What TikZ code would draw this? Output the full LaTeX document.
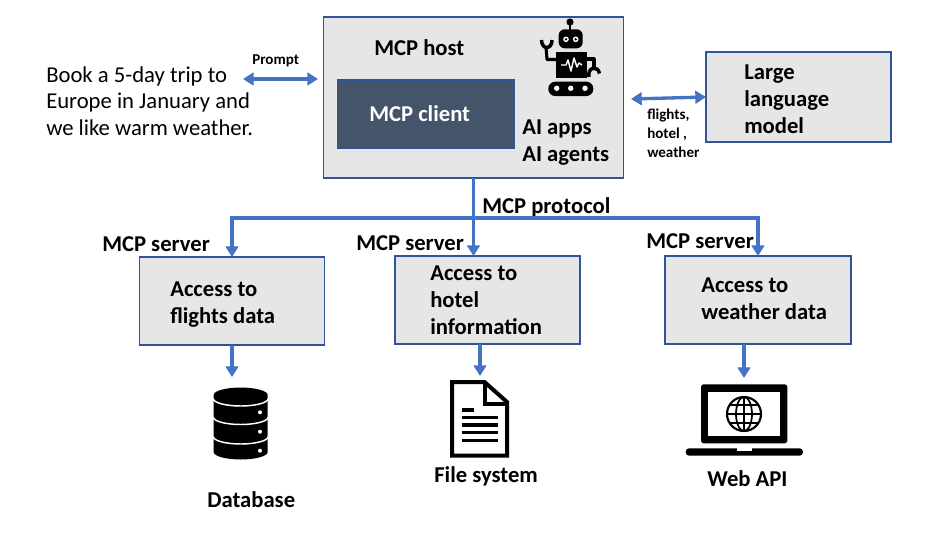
\documentclass[tikz,border=0pt]{standalone}
\usepackage{fontspec}
\setmainfont{Carlito}
\usetikzlibrary{arrows.meta}
\definecolor{boxline}{HTML}{2F5597}
\definecolor{boxfill}{HTML}{E7E6E6}
\definecolor{clientfill}{HTML}{44546A}
\definecolor{arrowblue}{HTML}{4472C4}
\tikzset{
  box/.style={draw=boxline,fill=boxfill,line width=1.1pt,outer sep=0pt,inner sep=0pt},
  clientbox/.style={draw=boxline,fill=clientfill,line width=1pt,outer sep=0pt,inner sep=0pt},
  flow/.style={draw=arrowblue,line width=2.5pt},
  arrowed/.style={flow,-{Triangle[length=8pt,width=9.5pt]}},
  twoway/.style={flow,{Triangle[length=8pt,width=9.5pt]}-{Triangle[length=8pt,width=9.5pt]}},
  big/.style={font=\fontsize{17}{20.1}\selectfont,anchor=north west,align=left,inner sep=0pt},
  lab/.style={font=\fontsize{17}{20.2}\selectfont\bfseries,anchor=north west,align=left,inner sep=0pt},
  small/.style={font=\fontsize{11.3}{14.2}\selectfont\bfseries,anchor=north west,align=left,inner sep=0pt},
}
\begin{document}
\begin{tikzpicture}[x=0.75pt,y=-0.75pt]
\useasboundingbox (0,0) rectangle (936,540);
\fill[white] (0,0) rectangle (936,540);
% boxes
\node[box,minimum width=225pt,minimum height=120.75pt] (host) at (473.5,97.5) {};
\node[clientbox,minimum width=132.75pt,minimum height=51pt] (client) at (426,114) {};
\node[box,minimum width=138.75pt,minimum height=67.5pt] (llm) at (798.5,97) {};
\node[box,minimum width=138.75pt,minimum height=66pt] (srv1) at (232,301) {};
\node[box,minimum width=138.75pt,minimum height=66pt] (srv2) at (487.5,300) {};
\node[box,minimum width=139.5pt,minimum height=66pt] (srv3) at (758,300) {};
% texts
\node[big] (ask) at (46,66) {Book a 5-day trip to\\Europe in January and\\we like warm weather.};
\node[small] (prompt) at (252,54) {Prompt};
\node[lab] (hostlab) at (374,39) {MCP host};
\node[lab,text=white] (clientlab) at (369,105) {MCP client};
\node[lab] (apps) at (522,119.5) {AI apps\\AI agents};
\node[lab] (llmlab) at (744,65) {Large\\language\\model};
\node[small] (data) at (647,109) {flights,\\hotel ,\\weather};
\node[lab] (protolab) at (482,197) {MCP protocol};
\node[lab] (s1) at (102,236) {MCP server};
\node[lab] (s2) at (356,235) {MCP server};
\node[lab] (s3) at (646,233) {MCP server};
\node[lab] (t1) at (170,282) {Access to\\flights data};
\node[lab] (t2) at (430,266) {Access to\\hotel\\information};
\node[lab] (t3) at (701,278) {Access to\\weather data};
\node[lab] (dbl) at (207,491) {Database};
\node[lab] (fsl) at (434,466) {File system};
\node[lab] (apil) at (707,470) {Web API};
% connectors
\coordinate (pl) at (243,79);
\coordinate (pr) at (318,79);
\draw[twoway] (pl) -- (pr);
\coordinate (ll) at (631,99);
\draw[twoway] (ll) -- (llm.west);
\coordinate (bus) at (473.5,218);
\coordinate (busl) at (232,218);
\coordinate (busr) at (758,218);
\draw[flow] (host.south) -- (bus);
\draw[arrowed] (bus) -- (busl) -- (srv1.north);
\draw[arrowed] (bus) -- (srv2.north -| bus);
\draw[arrowed] (bus) -- (busr) -- (srv3.north);
\coordinate (d1) at (232,377);
\coordinate (d2) at (480,376);
\coordinate (d3) at (744,378);
\draw[arrowed] (srv1.south) -- (d1);
\draw[arrowed] (srv2.south -| d2) -- (d2);
\draw[arrowed] (srv3.south -| d3) -- (d3);
% robot
\fill (570,22) circle (3.6);
\draw[line width=1.6pt] (570,22) -- (570,30);
\fill[rounded corners=4.5pt] (558.7,29.3) rectangle (582.7,48.3);
\fill[white] (566,39.3) circle (2.8) (575.7,39.3) circle (2.8);
\fill (566,39.3) circle (1.3) (575.7,39.3) circle (1.3);
\fill (555.7,51.7) rectangle (586.7,78.3);
\draw[white,line width=1.1pt,line join=round] (561,65) -- (566,65) -- (568,60) -- (571,71) -- (574,58) -- (577,67) -- (579,63) -- (582,65);
\fill[rounded corners=5.2pt] (548.3,81.7) rectangle (593.3,96);
\fill[white] (556.7,88.3) circle (2.7) (570.7,88.3) circle (2.7) (585,88.3) circle (2.7);
\draw[line width=2.3pt,line join=round] (556,59.5) -- (547,59.5) -- (546,47);
\draw[line width=2.6pt] (541.5,40) .. controls (541.5,50) and (552,50) .. (552,40);
\draw[line width=2.3pt,line join=round] (586,59) -- (594,59) -- (594,70);
\draw[line width=2.6pt] (589,77) .. controls (587,67) and (598,65) .. (599.5,73.5);
% database
\fill (213.7,395) arc[start angle=180,end angle=360,x radius=27,y radius=7.5] -- (267.7,452) arc[start angle=0,end angle=180,x radius=27,y radius=7.5] -- cycle;
\foreach \yy in {398.5,417,436.5}{
  \draw[white,line width=1.1pt] (213.2,\yy) arc[start angle=180,end angle=0,x radius=27.5,y radius=7.5];
}
\fill[white] (260,412.3) circle (2) (260,431.7) circle (2) (260,450.7) circle (2);
% file
\draw[line width=3pt,miter limit=4] (452,382) -- (484.5,382) -- (507,402) -- (507,455.5) -- (452,455.5) -- cycle;
\draw[line width=3pt] (484.5,382) -- (484.5,403.5) -- (507,403.5);
\foreach \yy in {417.7,425,432.3,440.3}{
  \draw[line width=2.4pt] (461.5,\yy) -- (497.5,\yy);
}
\draw[line width=2.4pt] (461.5,410) -- (473.5,410);
% laptop
\fill[rounded corners=2pt] (701,384.3) rectangle (787.3,443.3);
\fill[white] (708.3,392.3) rectangle (780,435.7);
\draw[line width=1.6pt] (744,414) circle (17);
\draw[line width=1.3pt] (744,414) ellipse (8 and 17);
\draw[line width=1.3pt] (744,397) -- (744,431) (727,414) -- (761,414);
\draw[line width=1.3pt] (730,405) -- (758,405) (730,423) -- (758,423);
\fill[rounded corners=2.5pt] (685.7,448.3) rectangle (803,455.7);
\fill[white] (736.7,448.3) rectangle (751.7,450.7);
\end{tikzpicture}
\end{document}
